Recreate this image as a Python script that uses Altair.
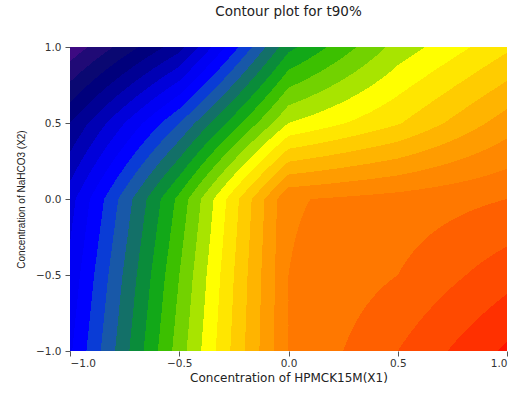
import numpy as np
import pandas as pd
import altair as alt

# Coded factor levels of the 5 x 5 response grid
x1_levels = [-1.0, -0.5, 0.0, 0.5, 1.0]   # HPMC K15M (X1)
x2_levels = [-1.0, -0.5, 0.0, 0.5, 1.0]   # NaHCO3 (X2)

# t90 response at each grid node: one row per X2 level, one column per X1 level
t90_rows = [
    [7.85, 15.5, 23.0, 25.0, 27.2],   # X2 = -1.0
    [7.30, 15.0, 23.0, 24.0, 25.6],   # X2 = -0.5
    [6.60, 14.3, 22.9, 23.4, 24.0],   # X2 =  0.0
    [4.00, 10.0, 17.0, 18.9, 21.5],   # X2 =  0.5
    [0.30, 4.6, 12.7, 16.4, 18.8],    # X2 =  1.0
]

# Contour levels and the fill colour of each band between them
contour_levels = list(range(1, 29))
band_colors = [
    "#3d0a82", "#200a76", "#0a0872", "#00007c", "#000094", "#0000b4",
    "#0000da", "#0000f4", "#0000ff", "#0a3cd6", "#1858a8", "#137068",
    "#0a8c3a", "#12a818", "#3cc000", "#72d200", "#a8e400", "#ffff00",
    "#ffe600", "#ffcc00", "#ffb400", "#ff9c00", "#ff8800", "#ff7800",
    "#ff6000", "#ff4a00", "#ff3000", "#ff1400", "#ff0000",
]
tick_values = [-1.0, -0.5, 0.0, 0.5, 1.0]

PLOT_W, PLOT_H = 437, 304

# Bilinear surface through the grid nodes, sampled once per screen pixel
xs = np.array(x1_levels)
ys = np.array(x2_levels)
Z = np.array(t90_rows)

edges_x = np.linspace(-1, 1, PLOT_W + 1)
edges_y = np.linspace(-1, 1, PLOT_H + 1)
cx = (edges_x[:-1] + edges_x[1:]) / 2
cy = (edges_y[:-1] + edges_y[1:]) / 2
gx, gy = np.meshgrid(cx, cy)

i = np.clip(np.searchsorted(xs, gx) - 1, 0, len(xs) - 2)
j = np.clip(np.searchsorted(ys, gy) - 1, 0, len(ys) - 2)
tx = (gx - xs[i]) / (xs[i + 1] - xs[i])
ty = (gy - ys[j]) / (ys[j + 1] - ys[j])
surface = (Z[j, i] * (1 - tx) * (1 - ty) + Z[j, i + 1] * tx * (1 - ty)
           + Z[j + 1, i] * (1 - tx) * ty + Z[j + 1, i + 1] * tx * ty)
bands = np.digitize(surface, contour_levels)

# Merge neighbouring cells of the same band into horizontal runs
records = []
for r in range(PLOT_H):
    row = bands[r]
    change = np.flatnonzero(np.diff(row)) + 1
    starts = np.r_[0, change]
    ends = np.r_[change, PLOT_W]
    for s, e in zip(starts, ends):
        records.append({
            "x": float(edges_x[s]), "x2": float(edges_x[e]),
            "y": float(edges_y[r]), "y2": float(edges_y[r + 1]),
            "band": int(row[s]),
        })
df = pd.DataFrame(records)

WIDE = "DejaVu Sans"
NARROW = "Liberation Sans"

chart = alt.Chart(df).mark_rect().encode(
    x=alt.X("x:Q",
            scale=alt.Scale(domain=[-1, 1], nice=False, zero=False),
            axis=alt.Axis(values=tick_values, format=".1f",
                          title="Concentration of HPMCK15M(X1)",
                          titleFont=WIDE, titleFontSize=12,
                          labelFont=WIDE, labelFontSize=10.5,
                          domain=False, grid=False, tickSize=5,
                          tickColor="#555", labelPadding=2,
                          titlePadding=4)),
    x2="x2:Q",
    y=alt.Y("y:Q",
            scale=alt.Scale(domain=[-1, 1], nice=False, zero=False),
            axis=alt.Axis(values=tick_values, format=".1f",
                          title="Concentration of NaHCO3 (X2)",
                          titleFont=NARROW, titleFontSize=10,
                          labelFont=WIDE, labelFontSize=10.5,
                          domain=False, grid=False, tickSize=5,
                          tickColor="#555", labelPadding=4,
                          titlePadding=9)),
    y2="y2:Q",
    color=alt.Color("band:O",
                    scale=alt.Scale(domain=list(range(len(band_colors))),
                                    range=band_colors),
                    legend=None),
).properties(
    width=PLOT_W,
    height=PLOT_H,
    title=alt.TitleParams("Contour plot for t90%", font=WIDE, fontSize=13.5,
                          fontWeight="normal", color="#222", anchor="middle",
                          frame="group", offset=24),
    autosize=alt.AutoSizeParams(type="none"),
    padding={"left": 70, "top": 47, "right": 14, "bottom": 45},
    background="white",
).configure_view(
    strokeWidth=0
).configure_axis(
    labelColor="#333", titleFontWeight="normal", titleColor="#222",
)

chart.save("out.html", embed_options={"renderer": "svg", "actions": False})
